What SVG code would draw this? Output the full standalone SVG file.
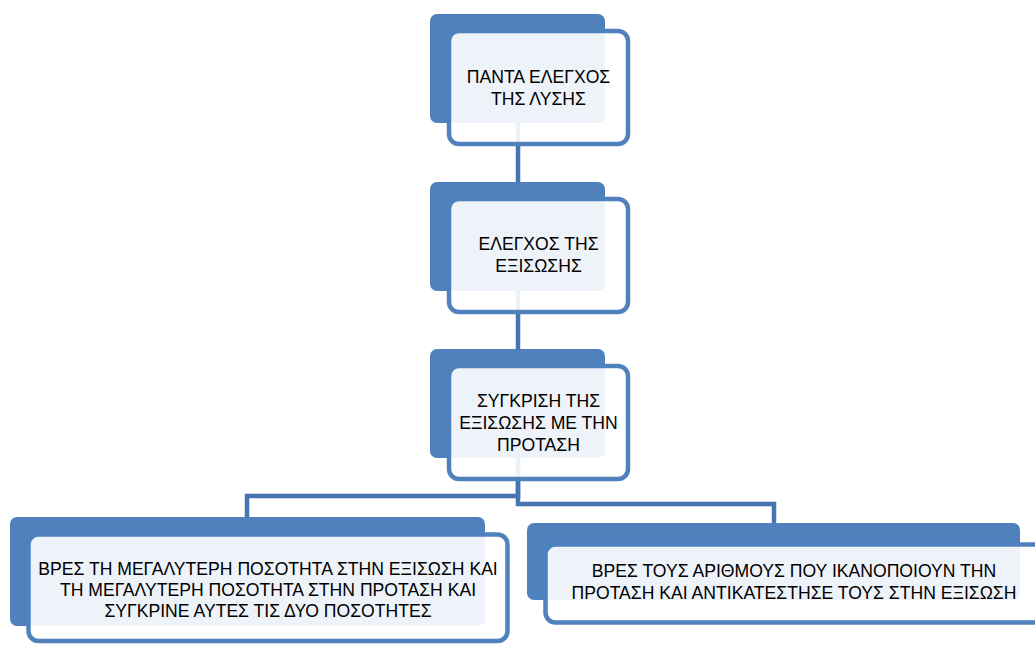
<svg xmlns="http://www.w3.org/2000/svg" width="1035" height="645" viewBox="0 0 1035 645">
<style>
.back{fill:#4F81BD;}
.front{fill:#FFFFFF;fill-opacity:0.9;stroke:#4F81BD;stroke-width:4.5;}
.conn{fill:none;stroke:#4676B2;stroke-width:4.5;stroke-linejoin:miter;}
text{font-family:"Liberation Sans",Arial,sans-serif;font-size:17.6px;fill:#000000;text-anchor:middle;}
</style>
<rect width="1035" height="645" fill="#FFFFFF"/>
<g id="connectors">
<path class="conn" d="M518 120 V184"/>
<path class="conn" d="M518 288 V351"/>
<path class="conn" d="M518 455 V496 H247 V519"/>
<path class="conn" d="M518 455 V504 H774 V525"/>
</g>
<g id="node1">
<rect class="back" x="430" y="14" width="175" height="109" rx="7"/>
<rect class="front" x="449" y="31" width="179" height="113" rx="10"/>
<text x="538.5" y="83">ΠΑΝΤΑ ΕΛΕΓΧΟΣ</text>
<text x="538.5" y="105">ΤΗΣ ΛΥΣΗΣ</text>
</g>
<g id="node2">
<rect class="back" x="430" y="182" width="175" height="109" rx="7"/>
<rect class="front" x="449" y="199" width="179" height="113" rx="10"/>
<text x="538.5" y="250">ΕΛΕΓΧΟΣ ΤΗΣ</text>
<text x="538.5" y="272">ΕΞΙΣΩΣΗΣ</text>
</g>
<g id="node3">
<rect class="back" x="430" y="349" width="175" height="109" rx="7"/>
<rect class="front" x="449" y="366" width="179" height="113" rx="10"/>
<text x="538.5" y="407">ΣΥΓΚΡΙΣΗ ΤΗΣ</text>
<text x="538.5" y="429">ΕΞΙΣΩΣΗΣ ΜΕ ΤΗΝ</text>
<text x="538.5" y="451">ΠΡΟΤΑΣΗ</text>
</g>
<g id="node4">
<rect class="back" x="10" y="517" width="475" height="109" rx="7"/>
<rect class="front" x="28.5" y="534.5" width="479" height="106.5" rx="10"/>
<text x="268" y="575">ΒΡΕΣ ΤΗ ΜΕΓΑΛΥΤΕΡΗ ΠΟΣΟΤΗΤΑ ΣΤΗΝ ΕΞΙΣΩΣΗ ΚΑΙ</text>
<text x="268" y="596">ΤΗ ΜΕΓΑΛΥΤΕΡΗ ΠΟΣΟΤΗΤΑ ΣΤΗΝ ΠΡΟΤΑΣΗ ΚΑΙ</text>
<text x="268" y="617">ΣΥΓΚΡΙΝΕ ΑΥΤΕΣ ΤΙΣ ΔΥΟ ΠΟΣΟΤΗΤΕΣ</text>
</g>
<g id="node5">
<rect class="back" x="527" y="523" width="493" height="77" rx="7"/>
<rect class="front" x="545.5" y="544.5" width="500" height="78" rx="10"/>
<text x="794" y="577">ΒΡΕΣ ΤΟΥΣ ΑΡΙΘΜΟΥΣ ΠΟΥ ΙΚΑΝΟΠΟΙΟΥΝ ΤΗΝ</text>
<text x="794" y="599">ΠΡΟΤΑΣΗ ΚΑΙ ΑΝΤΙΚΑΤΕΣΤΗΣΕ ΤΟΥΣ ΣΤΗΝ ΕΞΙΣΩΣΗ</text>
</g>
</svg>
